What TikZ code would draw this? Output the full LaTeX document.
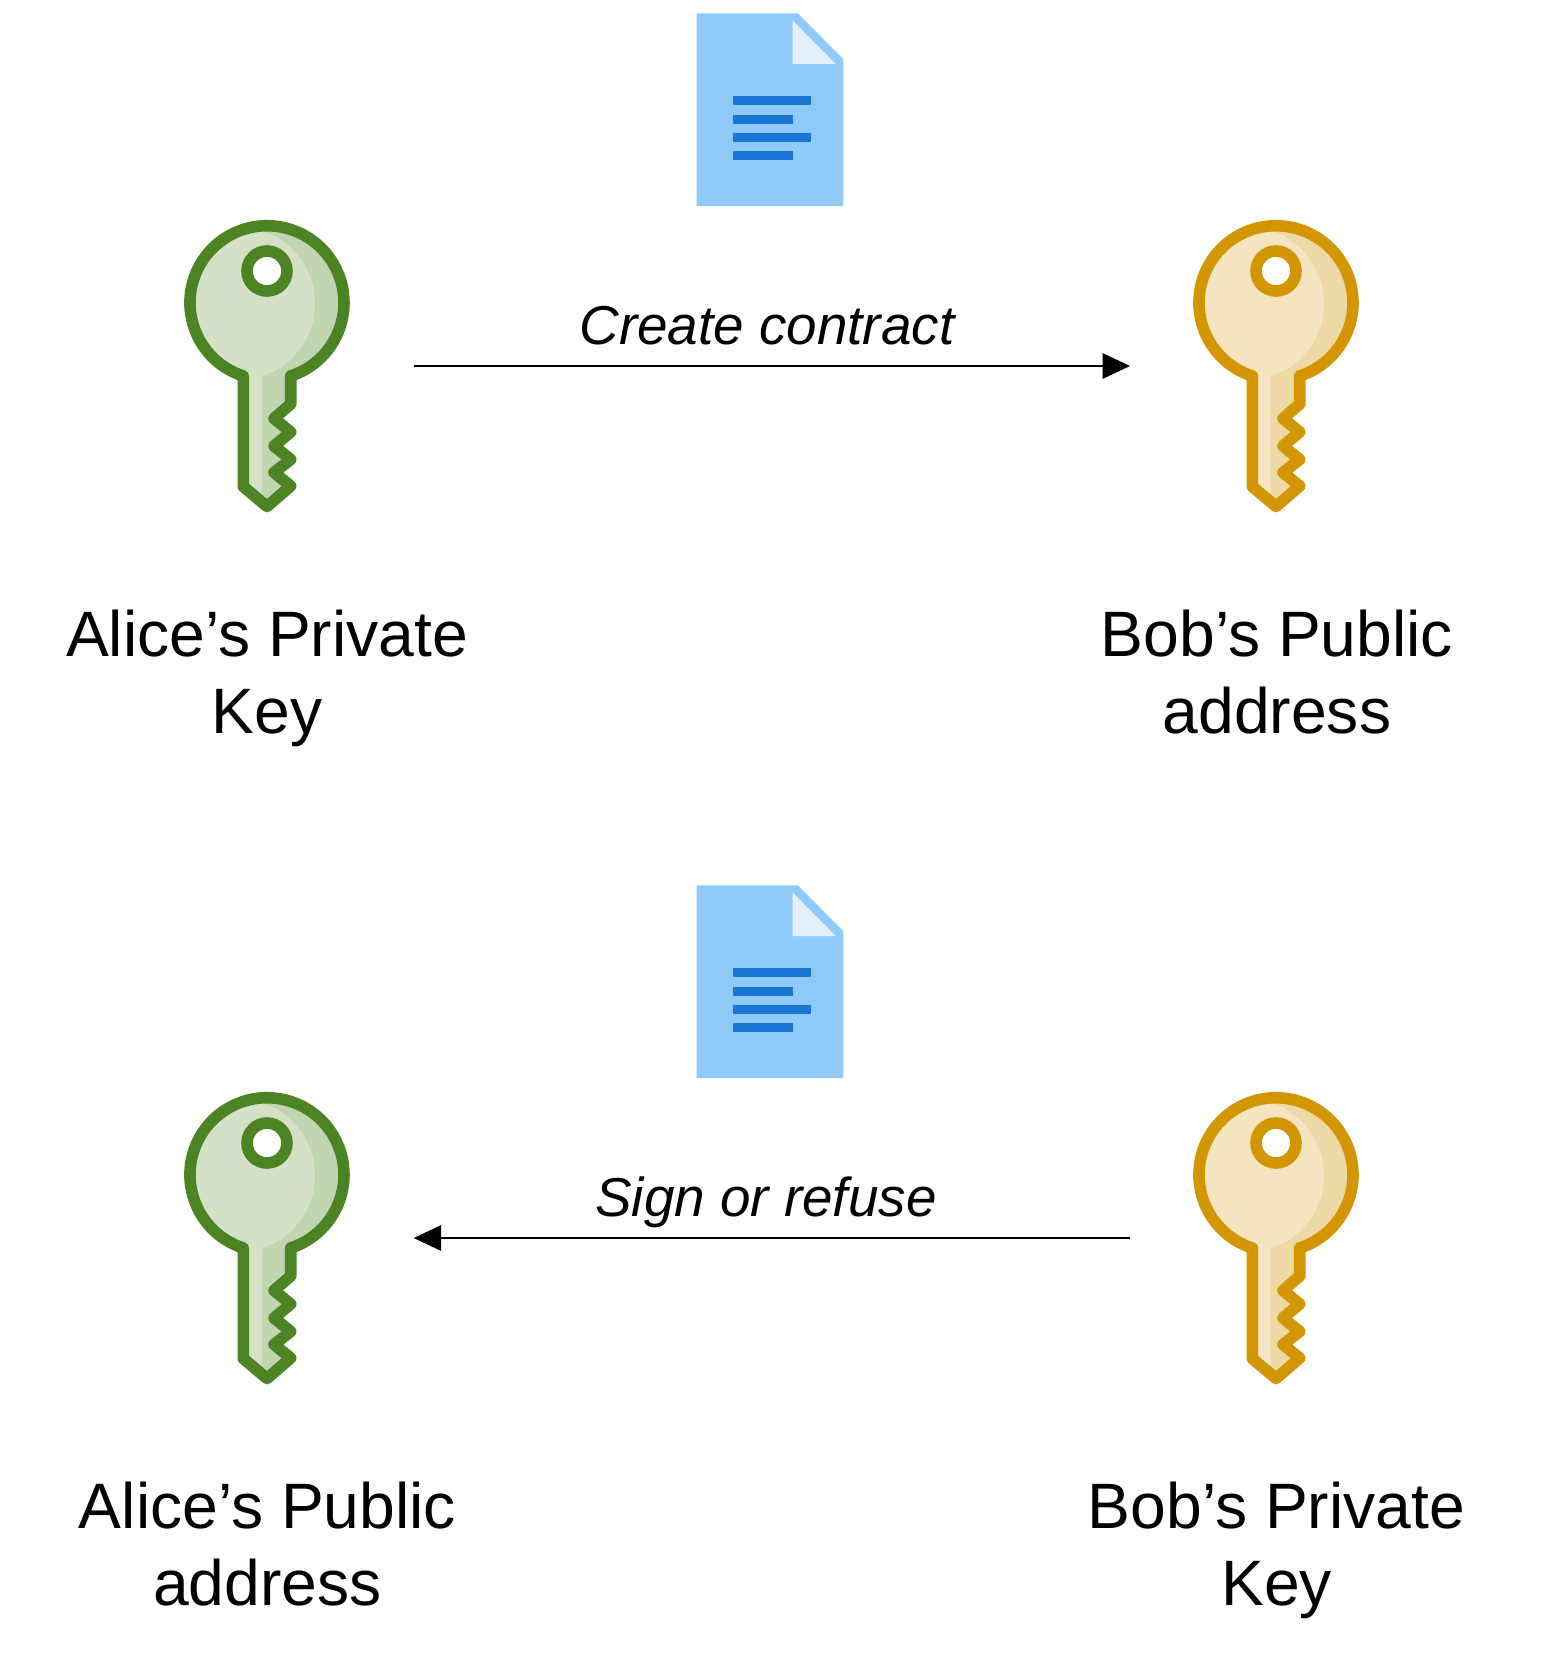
\documentclass[tikz,border=0pt]{standalone}
\usepackage{fontspec}
\setmainfont{Liberation Sans}
\usetikzlibrary{arrows.meta}

\definecolor{docblue}{HTML}{90CAF9}
\definecolor{docfold}{HTML}{E3F2FD}
\definecolor{docline}{HTML}{1976D2}
\definecolor{greenline}{HTML}{4D8423}
\definecolor{greenfill}{HTML}{D4E0C8}
\definecolor{greenshade}{HTML}{C2D5B3}
\definecolor{goldline}{HTML}{D39600}
\definecolor{goldfill}{HTML}{F4E5C0}
\definecolor{goldshade}{HTML}{EDD9A6}

\tikzset{
	keylabel/.style={font=\fontsize{32.1}{38.6}\selectfont, align=center, inner sep=0pt, anchor=base},
	actionlabel/.style={font=\fontsize{27.4}{33}\selectfont\itshape, inner sep=0pt, anchor=base},
	actionline/.style={line width=1pt, -{Triangle[length=13.7pt,width=12.7pt]}}
}

% outline of a key, head centred on the origin
\newcommand{\keypath}{(23.7,72.7) -- (23.7,101) -- (7,115.5) -- (23.7,129) -- (7,143) -- (23.7,156.5)
	-- (7,169.5) -- (23.7,183) -- (0,203.5) -- (-23.7,183.5) -- (-23.7,73) arc (107.9:432.1:77) -- cycle}

% \keyicon{x}{y}{line}{fill}{shade}
\newcommand{\keyicon}[5]{
	\begin{scope}[shift={(#1,#2)}]
		\fill[#5] \keypath;
		\begin{scope}
			\clip \keypath;
			\fill[#4] (-28.3,.5) circle (76.3);
			\fill[#4] (-30,60) rectangle (-5.3,210);
		\end{scope}
		\draw[#3, line width=5.8pt, line join=round] \keypath;
		\draw[#3, fill=white, line width=5.8pt] (0,-32) circle (20);
	\end{scope}
}

% \docicon{y}
\newcommand{\docicon}[1]{
	\begin{scope}[shift={(696.7,#1)}]
		\fill[docblue] (0,0) -- (101,0) -- (146.7,46) -- (146.7,192.7) -- (0,192.7) -- cycle;
		\fill[docfold] (96,7.3) -- (96,50.7) -- (139,50.7) -- cycle;
		\fill[docline] (36.7,83) rectangle (114.7,92);   %--- text lines
		\fill[docline] (36.7,101.3) rectangle (96.3,110.3);
		\fill[docline] (36.7,119.7) rectangle (114.7,128.7);
		\fill[docline] (36.7,138) rectangle (96.3,147);
	\end{scope}
}

\begin{document}
\begin{tikzpicture}[x=.5pt,y=-.5pt]
\useasboundingbox (0,0) rectangle (1543,1659);

%---------------------------------------------------------------- TOP ROW
\docicon{13.3}
\keyicon{267}{303}{greenline}{greenfill}{greenshade}
\keyicon{1276}{303}{goldline}{goldfill}{goldshade}

\node[keylabel] (aliceprivate) at (267,733.5) {Alice’s Private\\Key};
\node[keylabel] (bobpublic) at (1277,733.5) {Bob’s Public\\address};

\coordinate (createstart) at (413.7,366);
\coordinate (createend) at (1130,366);
\draw[actionline] (createstart) -- (createend);
\node[actionlabel] (createlabel) at (767,344) {Create contract};

%---------------------------------------------------------------- BOTTOM ROW
\docicon{885.3}
\keyicon{267}{1175}{greenline}{greenfill}{greenshade}
\keyicon{1276}{1175}{goldline}{goldfill}{goldshade}

\node[keylabel] (alicepublic) at (267.5,1605.5) {Alice’s Public\\address};
\node[keylabel] (bobprivate) at (1276.5,1605.5) {Bob’s Private\\Key};

\coordinate (signstart) at (1130,1238);
\coordinate (signend) at (413.7,1238);
\draw[actionline] (signstart) -- (signend);
\node[actionlabel] (signlabel) at (766,1216.5) {Sign or refuse};

\end{tikzpicture}
\end{document}
